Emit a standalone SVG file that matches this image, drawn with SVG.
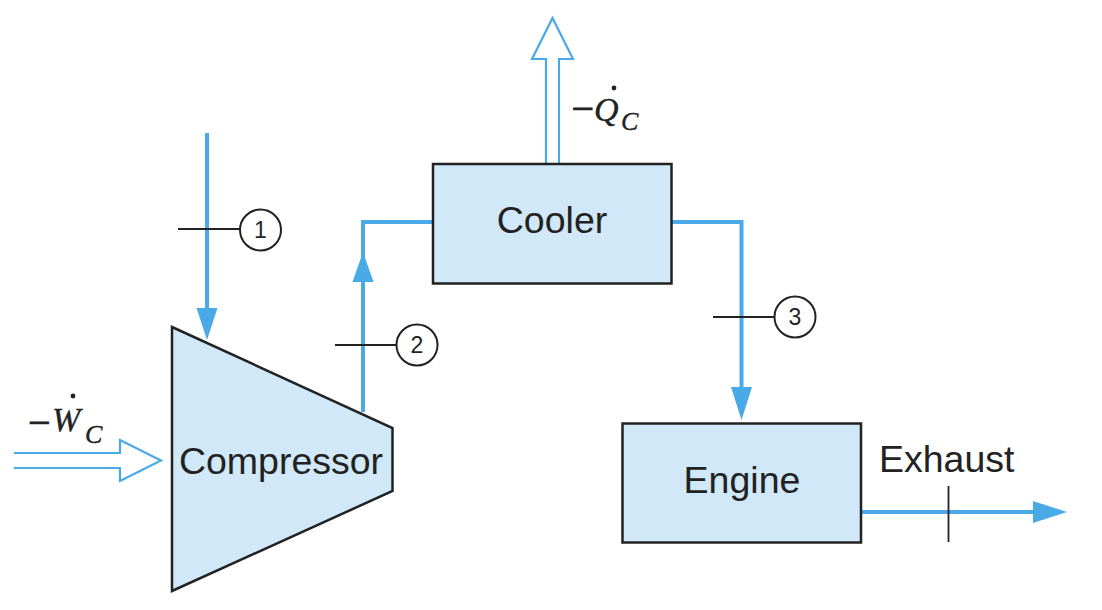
<svg xmlns="http://www.w3.org/2000/svg" width="1102" height="610" viewBox="0 0 1102 610">
<style>
.box{fill:#d0e8f8;stroke:#222;stroke-width:2.5}
.flow{fill:none;stroke:#4aaae8;stroke-width:4}
.head{fill:#4aaae8;stroke:none}
.energy{fill:#fff;stroke:#4aaae8;stroke-width:2.2;stroke-linejoin:miter}
.tick{stroke:#222;stroke-width:1.8;fill:none}
.circ{fill:#fff;stroke:#222;stroke-width:2}
.lbl{font-family:"Liberation Sans",Arial,sans-serif;font-size:37.5px;fill:#222}
.num{font-family:"Liberation Sans",Arial,sans-serif;font-size:23px;fill:#222}
.math{font-family:"Liberation Serif","Times New Roman",serif;font-style:italic;fill:#222;stroke:#222;stroke-width:0.4}
.minus{font-family:"Liberation Serif","Times New Roman",serif;font-size:40px;fill:#222;stroke:#222;stroke-width:0.8}
</style>
<rect width="1102" height="610" fill="#fff"/>
<g id="connectors">
<path class="flow" d="M207,133 V312"/>
<polygon class="head" points="196.5,308 217.5,308 207,340"/>
<path class="flow" d="M363,412 V222 H433"/>
<polygon class="head" points="352.5,282 373.5,282 363,252"/>
<path class="flow" d="M671,222 H741.5 V390"/>
<polygon class="head" points="731,387 752,387 741.5,420"/>
<path class="flow" d="M861,512 H1036"/>
<polygon class="head" points="1033,501 1033,523 1067,512"/>
<path class="energy" d="M546,163 V59 H532 L552.5,18 L573,59 H559 V163"/>
<path class="energy" d="M14,453 H120 V440 L161,460.5 L120,481 V468 H14"/>
</g>
<g id="state1">
<line class="tick" x1="178" y1="229" x2="240" y2="229"/>
<circle class="circ" cx="260.5" cy="230" r="20.5"/>
<text class="num" x="260.5" y="238" text-anchor="middle">1</text>
</g>
<g id="state2">
<line class="tick" x1="335" y1="345" x2="396" y2="345"/>
<circle class="circ" cx="417" cy="345" r="20.5"/>
<text class="num" x="417" y="353" text-anchor="middle">2</text>
</g>
<g id="state3">
<line class="tick" x1="713" y1="317" x2="774" y2="317"/>
<circle class="circ" cx="795" cy="317" r="20.5"/>
<text class="num" x="795" y="325" text-anchor="middle">3</text>
</g>
<g id="compressor">
<polygon class="box" points="172,327 392.5,428 392.5,491 172,591"/>
<text class="lbl" x="281" y="474" text-anchor="middle">Compressor</text>
</g>
<g id="cooler">
<rect class="box" x="433" y="164" width="238.5" height="119.5"/>
<text class="lbl" x="552" y="233" text-anchor="middle">Cooler</text>
</g>
<g id="engine">
<rect class="box" x="622.5" y="423.5" width="238.5" height="119"/>
<text class="lbl" x="742" y="492.5" text-anchor="middle">Engine</text>
</g>
<g id="exhaust">
<line class="tick" x1="948.5" y1="486" x2="948.5" y2="542"/>
<text class="lbl" x="879" y="471.5">Exhaust</text>
</g>
<g id="work-label">
<text class="minus" x="28" y="436">−</text>
<text class="math" x="52" y="431" font-size="34">W</text>
<text class="math" x="85" y="443" font-size="26">C</text>
<circle cx="73" cy="396" r="2.4" fill="#222"/>
</g>
<g id="heat-label">
<text class="minus" x="571.5" y="122">−</text>
<text class="math" x="594" y="121" font-size="34">Q</text>
<text class="math" x="621" y="129.5" font-size="26">C</text>
<circle cx="614" cy="88" r="2.4" fill="#222"/>
</g>
</svg>
